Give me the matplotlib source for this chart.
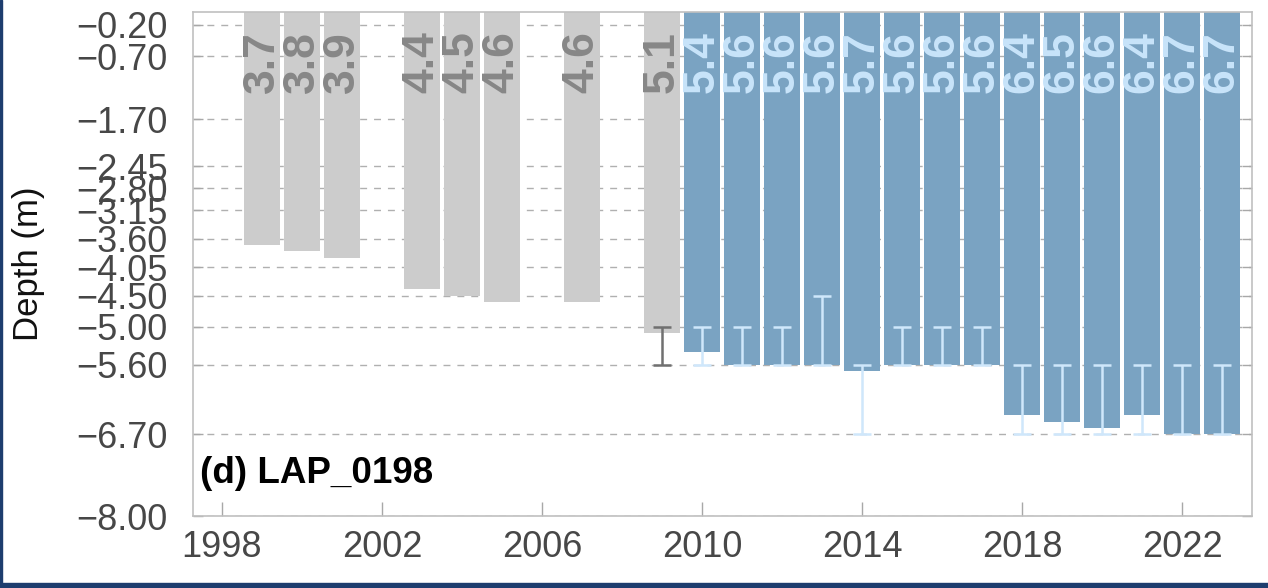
import numpy as np
import matplotlib
matplotlib.use("Agg")
import matplotlib.pyplot as plt
from matplotlib.patches import Rectangle

plt.rcParams['font.family'] = ['Liberation Sans', 'DejaVu Sans']

# Survey years and observed depths (m)
years = [1999, 2000, 2001, 2003, 2004, 2005, 2007, 2009,
         2010, 2011, 2012, 2013, 2014, 2015, 2016, 2017,
         2018, 2019, 2020, 2021, 2022, 2023]
depths = [3.7, 3.8, 3.9, 4.4, 4.5, 4.6, 4.6, 5.1,
          5.4, 5.6, 5.6, 5.6, 5.7, 5.6, 5.6, 5.6,
          6.4, 6.5, 6.6, 6.4, 6.7, 6.7]
# Depth range (shallow, deep) for each survey; None where no range
range_shallow = [None, None, None, None, None, None, None, 5.0,
                 5.0, 5.0, 5.0, 4.5, 5.6, 5.0, 5.0, 5.0,
                 5.6, 5.6, 5.6, 5.6, 5.6, 5.6]
range_deep = [None, None, None, None, None, None, None, 5.6,
              5.6, 5.6, 5.6, 5.6, 6.7, 5.6, 5.6, 5.6,
              6.7, 6.7, 6.7, 6.7, 6.7, 6.7]
# Surveys from this year onward are shown in blue
blue_from = 2010

ytick_values = [-0.20, -0.70, -1.70, -2.45, -2.80, -3.15, -3.60,
                -4.05, -4.50, -5.00, -5.60, -6.70, -8.00]
xtick_values = [1998, 2002, 2006, 2010, 2014, 2018, 2022]
panel_title = "(d) LAP_0198"

grey_bar = "#cccccc"
grey_text = "#878787"
grey_err = "#707070"
blue_bar = "#7aa3c2"
blue_text = "#c8e4fa"
blue_err = "#cfe7fb"

fig = plt.figure(figsize=(12.68, 5.88), dpi=100)
ax = fig.add_axes([193 / 1268, 1 - 516 / 588, (1252 - 193) / 1268, (516 - 12) / 588])

ax.set_xlim(1997.275, 2023.75)
ax.set_ylim(-8.0, 0.0)

for yv in ytick_values:
    ax.axhline(yv, color="#b0b0b0", lw=1.0, ls=(0, (5, 5)), zorder=0)

for yr, d, s, dp in zip(years, depths, range_shallow, range_deep):
    blue = yr >= blue_from
    fc = blue_bar if blue else grey_bar
    tc = blue_text if blue else grey_text
    ec = blue_err if blue else grey_err
    ax.bar(yr, -d, bottom=0, width=0.88, color=fc, zorder=2)
    ax.text(yr, -0.30, f"{d:.1f}", rotation=90, ha="center", va="top",
            fontsize=32, fontweight="bold", color=tc, zorder=4)
    if s is not None:
        ax.errorbar(yr, -d, yerr=[[dp - d], [d - s]], fmt="none",
                    ecolor=ec, elinewidth=1.8, capsize=6.5, capthick=1.8,
                    zorder=3)

ax.set_yticks(ytick_values)
ax.set_yticklabels([f"\u2212{abs(v):.2f}" for v in ytick_values])
ax.set_xticks(xtick_values)
ax.tick_params(axis="both", direction="in", labelsize=26,
               labelcolor="#474747", color="#a8a8a8", width=1.0)
ax.tick_params(axis="y", length=7, right=True, pad=18)
ax.tick_params(axis="x", length=10, pad=10)

for sp in ax.spines.values():
    sp.set_color("#c0c0c0")
    sp.set_linewidth(1.2)

ax.set_ylabel("Depth (m)", fontsize=25, color="#111111")
ax.yaxis.set_label_coords(-0.140, 0.5)

ax.text(0.007, 0.066, panel_title, transform=ax.transAxes, ha="left",
        va="baseline", fontsize=26.5, fontweight="bold", color="black")

# dark frame along the bottom and left edges
fig.patches.append(Rectangle((0, 0), 1, 5 / 588, transform=fig.transFigure,
                             color="#1d3d6e", zorder=10))
fig.patches.append(Rectangle((0, 0), 2 / 1268, 1, transform=fig.transFigure,
                             color="#1d3d6e", zorder=10))

fig.savefig("out.png", dpi=100)
